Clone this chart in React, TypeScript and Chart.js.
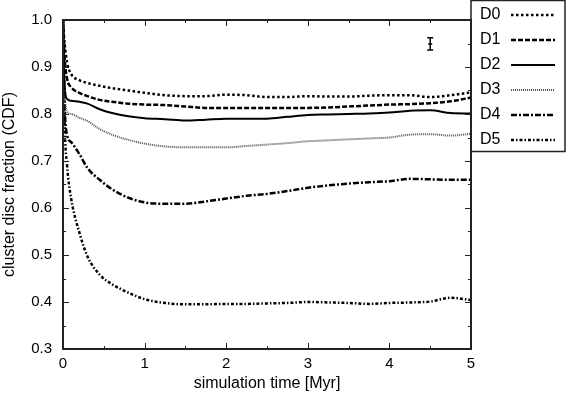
import React, { useEffect, useRef } from "react";
import { Chart, registerables } from "chart.js";

Chart.register(...registerables);

const times = [0, 0.02, 0.05, 0.1, 0.2, 0.3, 0.45, 0.6, 0.8, 1.0, 1.25, 1.5, 1.75, 2.0, 2.25, 2.5, 2.75, 3.0, 3.25, 3.5, 3.75, 4.0, 4.25, 4.5, 4.75, 5.0];

const d0 = [1.0, 0.95, 0.91, 0.885, 0.872, 0.866, 0.86, 0.855, 0.85, 0.845, 0.84, 0.838, 0.838, 0.841, 0.84, 0.836, 0.836, 0.838, 0.837, 0.837, 0.839, 0.84, 0.84, 0.836, 0.84, 0.846];
const d1 = [1.0, 0.92, 0.875, 0.857, 0.845, 0.838, 0.83, 0.826, 0.822, 0.82, 0.819, 0.816, 0.813, 0.813, 0.813, 0.813, 0.813, 0.813, 0.814, 0.816, 0.818, 0.82, 0.821, 0.823, 0.827, 0.835];
const d2 = [1.0, 0.86, 0.832, 0.828, 0.826, 0.822, 0.81, 0.802, 0.795, 0.791, 0.789, 0.786, 0.788, 0.79, 0.79, 0.79, 0.794, 0.798, 0.799, 0.8, 0.801, 0.803, 0.807, 0.808, 0.802, 0.801];
const d3 = [1.0, 0.85, 0.805, 0.8, 0.792, 0.785, 0.768, 0.756, 0.745, 0.737, 0.731, 0.729, 0.729, 0.729, 0.732, 0.735, 0.738, 0.742, 0.744, 0.746, 0.748, 0.75, 0.756, 0.757, 0.754, 0.758];
const d4 = [1.0, 0.82, 0.755, 0.74, 0.715, 0.685, 0.66, 0.64, 0.622, 0.612, 0.609, 0.609, 0.614, 0.62, 0.626, 0.63, 0.636, 0.643, 0.648, 0.652, 0.655, 0.657, 0.662, 0.661, 0.66, 0.66];
const d5 = [1.0, 0.78, 0.69, 0.62, 0.548, 0.497, 0.458, 0.438, 0.42, 0.406, 0.398, 0.395, 0.395, 0.396, 0.396, 0.397, 0.398, 0.4, 0.399, 0.398, 0.396, 0.398, 0.399, 0.401, 0.409, 0.404];

const seriesNames = ["D0", "D1", "D2", "D3", "D4", "D5"];
const seriesValues = [d0, d1, d2, d3, d4, d5];

const xTicks = [0, 1, 2, 3, 4, 5];
const yTicks = [0.3, 0.4, 0.5, 0.6, 0.7, 0.8, 0.9, 1.0];

const errX = 4.5;
const errY = 0.949;
const errHalf = 0.013;

const styles = [
  { color: "#000", width: 2.5, dash: [2.5, 2.5] },
  { color: "#000", width: 2.5, dash: [5, 2] },
  { color: "#000", width: 2, dash: [] as number[] },
  { color: "#555", width: 2, dash: [1, 1] },
  { color: "#000", width: 2.5, dash: [6, 2, 2, 2] },
  { color: "#000", width: 2.5, dash: [3, 2, 1.5, 2] },
];

const FONT = "'Liberation Sans', Arial, Helvetica, sans-serif";

const framePlugin = {
  id: "frame",
  afterDatasetsDraw(chart: any) {
    const { ctx, chartArea: a, scales } = chart;
    const xs = scales.x;
    const ys = scales.y;
    ctx.save();
    ctx.strokeStyle = "#222";
    ctx.lineWidth = 1;
    const major = 6;
    const minor = 3;
    for (let v = 0; v <= 5.0001; v += 0.5) {
      const px = Math.round(xs.getPixelForValue(v)) + 0.5;
      const len = Math.abs(v - Math.round(v)) < 1e-6 ? major : minor;
      ctx.beginPath();
      ctx.moveTo(px, a.bottom);
      ctx.lineTo(px, a.bottom - len);
      ctx.moveTo(px, a.top);
      ctx.lineTo(px, a.top + len);
      ctx.stroke();
    }
    for (let i = 0; i <= 14; i++) {
      const v = 0.3 + i * 0.05;
      const py = Math.round(ys.getPixelForValue(v)) + 0.5;
      const len = i % 2 === 0 ? major : minor;
      ctx.beginPath();
      ctx.moveTo(a.left, py);
      ctx.lineTo(a.left + len, py);
      ctx.moveTo(a.right, py);
      ctx.lineTo(a.right - len, py);
      ctx.stroke();
    }
    ctx.lineWidth = 2;
    ctx.strokeRect(a.left, a.top, a.right - a.left, a.bottom - a.top);
    const ex = xs.getPixelForValue(errX);
    const y1 = ys.getPixelForValue(errY - errHalf);
    const y2 = ys.getPixelForValue(errY + errHalf);
    ctx.strokeStyle = "#000";
    ctx.lineWidth = 1.5;
    ctx.beginPath();
    ctx.moveTo(ex, y1);
    ctx.lineTo(ex, y2);
    ctx.moveTo(ex - 3, y1);
    ctx.lineTo(ex + 3, y1);
    ctx.moveTo(ex - 3, y2);
    ctx.lineTo(ex + 3, y2);
    ctx.moveTo(ex - 2, (y1 + y2) / 2);
    ctx.lineTo(ex + 2, (y1 + y2) / 2);
    ctx.stroke();
    const lx = a.right;
    const lw = chart.width - 1 - lx;
    ctx.strokeStyle = "#222";
    ctx.lineWidth = 1.5;
    ctx.strokeRect(lx, 0.5, lw, 151);
    ctx.font = `16px ${FONT}`;
    ctx.fillStyle = "#000";
    ctx.textBaseline = "middle";
    ctx.textAlign = "left";
    seriesNames.forEach((name, i) => {
      const cy = 15 + i * 25;
      ctx.fillText(name, lx + 9, cy);
      const s = styles[i];
      ctx.strokeStyle = s.color;
      ctx.lineWidth = s.width;
      ctx.setLineDash(s.dash);
      ctx.beginPath();
      ctx.moveTo(lx + 40, cy);
      ctx.lineTo(lx + 84, cy);
      ctx.stroke();
      ctx.setLineDash([]);
    });
    ctx.restore();
  },
};

export default function App() {
  const ref = useRef<HTMLCanvasElement | null>(null);
  useEffect(() => {
    document.body.style.margin = "0";
    const canvas = ref.current;
    if (!canvas) return;
    const chart = new Chart(canvas, {
      type: "line",
      data: {
        datasets: seriesValues.map((vals, i) => ({
          label: seriesNames[i],
          data: vals.map((v, j) => ({ x: times[j], y: v })),
          borderColor: styles[i].color,
          borderWidth: styles[i].width,
          borderDash: styles[i].dash,
          pointRadius: 0,
          fill: false,
          cubicInterpolationMode: "monotone" as const,
        })),
      },
      options: {
        animation: false,
        responsive: false,
        devicePixelRatio: 1,
        layout: { padding: { top: 5, right: 95, left: 0, bottom: 0 } },
        plugins: { legend: { display: false }, tooltip: { enabled: false } },
        scales: {
          x: {
            type: "linear",
            min: 0,
            max: 5,
            afterBuildTicks: (s: any) => {
              s.ticks = xTicks.map((v) => ({ value: v }));
            },
            afterFit: (s: any) => {
              s.height = 48;
            },
            grid: { display: false, drawTicks: false },
            border: { display: false },
            ticks: {
              color: "#000",
              font: { family: FONT, size: 15 },
              padding: 6,
              maxRotation: 0,
              callback: (v: any) => String(v),
            },
            title: {
              display: true,
              text: "simulation time [Myr]",
              color: "#000",
              font: { family: FONT, size: 16 },
              padding: { top: 0, bottom: 4 },
            },
          },
          y: {
            type: "linear",
            min: 0.3,
            max: 1.0,
            afterBuildTicks: (s: any) => {
              s.ticks = yTicks.map((v) => ({ value: v }));
            },
            afterFit: (s: any) => {
              s.width = 63;
            },
            grid: { display: false, drawTicks: false },
            border: { display: false },
            ticks: {
              color: "#000",
              font: { family: FONT, size: 15 },
              padding: 11,
              callback: (v: any) => Number(v).toFixed(1),
            },
            title: {
              display: true,
              text: "cluster disc fraction (CDF)",
              color: "#000",
              font: { family: FONT, size: 16 },
              padding: { top: 0, bottom: 0 },
            },
          },
        },
      },
      plugins: [framePlugin],
    });
    return () => chart.destroy();
  }, []);
  return (
    <div style={{ position: "absolute", left: 0, top: 0, width: 566, height: 397, background: "#fff" }}>
      <canvas ref={ref} width={566} height={397} />
    </div>
  );
}
